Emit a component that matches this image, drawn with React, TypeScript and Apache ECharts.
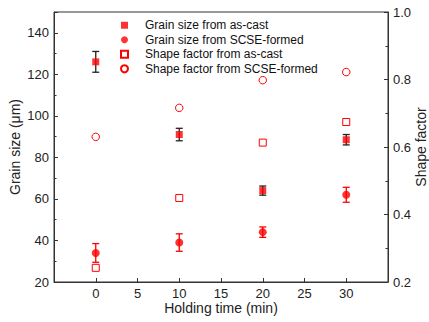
import React, { useEffect, useRef } from "react";
import * as echarts from "echarts";

const times = [0, 10, 20, 30];
const grainAsCast = [126, 91, 64, 88.5];
const grainAsCastErr = [5, 3, 2.2, 2.5];
const grainScse = [34, 39, 44, 62];
const grainScseErr = [4.5, 4.2, 2.5, 3.6];
const shapeAsCast = [0.242, 0.449, 0.613, 0.674];
const shapeScse = [0.63, 0.716, 0.798, 0.822];
const xTickLabels = ["0", "5", "10", "15", "20", "25", "30"];
const leftTickLabels = ["20", "40", "60", "80", "100", "120", "140"];
const rightTickLabels = ["0.2", "0.4", "0.6", "0.8", "1.0"];

const RED = "#ff0000";
const FONT = "'Liberation Sans', Arial, sans-serif";

function errorSeries(name: string, vals: number[], errs: number[], color: string) {
  return {
    name: name + "-err",
    type: "custom",
    yAxisIndex: 0,
    z: 1,
    silent: true,
    encode: { x: 0, y: 1 },
    data: times.map((t, i) => [t, vals[i], errs[i]]),
    renderItem: (params: any, api: any) => {
      const x = api.value(0);
      const y = api.value(1);
      const e = api.value(2);
      const top = api.coord([x, y + e]);
      const bot = api.coord([x, y - e]);
      const h = 3.5;
      const style = { stroke: color, lineWidth: 1.3 };
      return {
        type: "group",
        children: [
          { type: "line", shape: { x1: top[0], y1: top[1], x2: bot[0], y2: bot[1] }, style },
          { type: "line", shape: { x1: top[0] - h, y1: top[1], x2: top[0] + h, y2: top[1] }, style },
          { type: "line", shape: { x1: bot[0] - h, y1: bot[1], x2: bot[0] + h, y2: bot[1] }, style },
        ],
      };
    },
  };
}

export default function App() {
  const ref = useRef<HTMLDivElement>(null);
  useEffect(() => {
    if (!ref.current) return;
    const chart = echarts.init(ref.current, undefined, { renderer: "svg" });
    const axisLine = { show: true, onZero: false, lineStyle: { color: "#333", width: 1 } };
    const labelStyle = { color: "#222", fontSize: 13, fontFamily: FONT };
    chart.setOption({
      animation: false,
      backgroundColor: "#fff",
      textStyle: { fontFamily: FONT },
      grid: {
        left: 54,
        right: 41,
        top: 12,
        bottom: 40,
        containLabel: false,
        outerBoundsMode: "none",
        show: true,
        borderColor: "#333",
        borderWidth: 1,
        backgroundColor: "transparent",
      },
      legend: {
        orient: "vertical",
        left: 115,
        top: 13,
        itemWidth: 7,
        itemHeight: 7,
        itemGap: 0,
        data: [
          "Grain size from as-cast",
          "Grain size from SCSE-formed",
          "Shape factor from as-cast",
          "Shape factor from SCSE-formed",
        ],
        textStyle: {
          fontSize: 12,
          color: "#111",
          fontFamily: FONT,
          lineHeight: 14.5,
          padding: [0, 0, 0, 12],
        },
      },
      xAxis: {
        type: "value",
        min: -5,
        max: 35,
        interval: 5,
        name: "Holding time (min)",
        nameLocation: "middle",
        nameGap: 19,
        nameMoveOverlap: false,
        nameTextStyle: { fontSize: 14, color: "#222", fontFamily: FONT },
        axisLine,
        axisTick: { show: true, inside: true, length: 4, lineStyle: { color: "#333" } },
        minorTick: { show: false },
        splitLine: { show: false },
        axisLabel: {
          ...labelStyle,
          margin: 5,
          formatter: (v: number) => (xTickLabels.includes(String(v)) ? String(v) : ""),
        },
      },
      yAxis: [
        {
          type: "value",
          min: 20,
          max: 150,
          interval: 20,
          name: "Grain size (\u03bcm)",
          nameLocation: "middle",
          nameGap: 32,
          nameMoveOverlap: false,
          nameTextStyle: { fontSize: 14, color: "#222", fontFamily: FONT },
          axisLine,
          axisTick: { show: true, inside: true, length: 4, lineStyle: { color: "#333" } },
          minorTick: { show: true, splitNumber: 2, length: 2.5, lineStyle: { color: "#333" } },
          splitLine: { show: false },
          axisLabel: {
            ...labelStyle,
            margin: 5,
            formatter: (v: number) => (leftTickLabels.includes(String(v)) ? String(v) : ""),
          },
        },
        {
          type: "value",
          position: "right",
          min: 0.2,
          max: 1.0,
          interval: 0.2,
          name: "Shape factor",
          nameLocation: "middle",
          nameRotate: 90,
          nameGap: 26,
          nameMoveOverlap: false,
          nameTextStyle: { fontSize: 14, color: "#222", fontFamily: FONT },
          axisLine,
          axisTick: { show: true, inside: true, length: 4, lineStyle: { color: "#333" } },
          minorTick: { show: true, splitNumber: 2, length: 2.5, lineStyle: { color: "#333" } },
          splitLine: { show: false },
          axisLabel: {
            ...labelStyle,
            margin: 5,
            formatter: (v: number) => {
              const s = (Math.round(v * 10) / 10).toFixed(1);
              return rightTickLabels.includes(s) ? s : "";
            },
          },
        },
      ],
      series: [
        errorSeries("Grain size from as-cast", grainAsCast, grainAsCastErr, "#222"),
        errorSeries("Grain size from SCSE-formed", grainScse, grainScseErr, RED),
        {
          name: "Grain size from as-cast",
          type: "scatter",
          yAxisIndex: 0,
          symbol: "rect",
          symbolSize: 7,
          z: 3,
          itemStyle: { color: RED },
          data: times.map((t, i) => [t, grainAsCast[i]]),
        },
        {
          name: "Grain size from SCSE-formed",
          type: "scatter",
          yAxisIndex: 0,
          symbol: "circle",
          symbolSize: 8,
          z: 3,
          itemStyle: { color: RED },
          data: times.map((t, i) => [t, grainScse[i]]),
        },
        {
          name: "Shape factor from as-cast",
          type: "scatter",
          yAxisIndex: 1,
          symbol: "rect",
          symbolSize: 7,
          z: 3,
          itemStyle: { color: "#fff", borderColor: RED, borderWidth: 1, opacity: 1 },
          data: times.map((t, i) => [t, shapeAsCast[i]]),
        },
        {
          name: "Shape factor from SCSE-formed",
          type: "scatter",
          yAxisIndex: 1,
          symbol: "circle",
          symbolSize: 7.5,
          z: 3,
          itemStyle: { color: "#fff", borderColor: RED, borderWidth: 1, opacity: 1 },
          data: times.map((t, i) => [t, shapeScse[i]]),
        },
      ],
    });
    return () => chart.dispose();
  }, []);
  return (
    <div
      ref={ref}
      style={{ position: "fixed", left: 0, top: 0, width: 429, height: 322 }}
    />
  );
}
